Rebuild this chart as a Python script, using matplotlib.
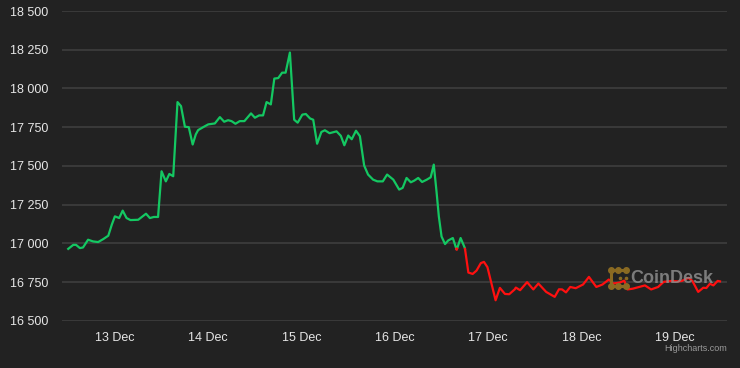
import matplotlib
matplotlib.use("Agg")
import matplotlib.pyplot as plt
import numpy as np

# hours since 13 Dec 00:00 and BTC price (USD)
hours = [-12.0, -10.7, -10.0, -9.0, -8.2, -6.9, -5.6, -4.3, -3.0, -1.7,
         -0.8, 0.0, 1.1, 2.0, 3.0, 4.0, 6.0, 8.0, 9.0, 10.0,
         11.1, 12.0, 13.1, 14.0, 15.0, 16.1, 17.0, 18.0, 19.0, 20.0,
         20.8, 21.4, 22.7, 24.0, 25.7, 27.0, 28.1, 29.1, 30.0, 31.0,
         32.1, 33.3, 35.0, 36.0, 37.1, 38.1, 39.0, 40.1, 41.0, 42.0,
         43.0, 43.9, 45.0, 46.1, 47.0, 48.2, 49.1, 50.2, 51.0, 52.0,
         53.1, 54.0, 55.2, 57.0, 58.1, 59.0, 60.0, 60.9, 62.0, 63.0,
         64.1, 65.1, 66.4, 67.5, 68.9, 70.0, 71.6, 73.1, 74.0, 75.0,
         76.1, 77.0, 78.0, 79.0, 80.2, 81.2, 82.0, 82.7, 83.3, 84.0,
         84.9, 85.7, 86.9, 87.9, 88.9, 90.0, 90.9, 92.0, 93.0, 94.1,
         94.9, 95.8, 96.6, 97.9, 99.0, 100.3, 101.4, 102.8, 103.1, 104.2,
         106.0, 107.6, 108.9, 110.9, 113.1, 114.2, 115.0, 116.0, 117.1, 118.5,
         120.4, 121.9, 123.8, 125.4, 127.0, 128.2, 129.9, 131.0, 131.8, 133.2,
         136.3, 137.9, 139.7, 141.1, 143.2, 144.8, 145.8, 147.5, 148.5, 150.0,
         151.3, 152.1, 153.0, 153.9, 155.0, 155.6]
prices = [16964, 16990, 16990, 16969, 16973, 17023, 17012, 17008, 17027, 17049,
          17120, 17174, 17163, 17211, 17163, 17150, 17152, 17191, 17163, 17170,
          17170, 17465, 17400, 17448, 17433, 17912, 17886, 17753, 17750, 17638,
          17703, 17731, 17750, 17768, 17774, 17815, 17785, 17795, 17789, 17772,
          17789, 17789, 17839, 17811, 17826, 17826, 17912, 17897, 18064, 18067,
          18102, 18102, 18232, 17798, 17779, 17831, 17835, 17806, 17798, 17643,
          17719, 17730, 17711, 17723, 17694, 17633, 17696, 17672, 17727, 17692,
          17502, 17444, 17411, 17400, 17400, 17444, 17411, 17347, 17358, 17422,
          17394, 17405, 17422, 17396, 17411, 17426, 17508, 17336, 17174, 17044,
          16995, 17018, 17034, 16958, 17034, 16969, 16811, 16802, 16824, 16872,
          16880, 16846, 16764, 16632, 16712, 16673, 16671, 16702, 16714, 16697,
          16749, 16702, 16740, 16686, 16654, 16703, 16702, 16683, 16718, 16710,
          16734, 16783, 16718, 16734, 16766, 16740, 16747, 16759, 16702, 16707,
          16728, 16702, 16718, 16751, 16757, 16754, 16757, 16777, 16757, 16686,
          16713, 16711, 16739, 16728, 16757, 16754]

day_ticks = [0, 24, 48, 72, 96, 120, 144]
day_labels = ["13 Dec", "14 Dec", "15 Dec", "16 Dec", "17 Dec", "18 Dec", "19 Dec"]
y_ticks = [16500, 16750, 17000, 17250, 17500, 17750, 18000, 18250, 18500]

bg = "#222222"
green = "#14c862"
red = "#ff1010"
gold = "#8a6a22"

plt.rcParams["font.family"] = ["Liberation Sans", "DejaVu Sans"]

fig = plt.figure(figsize=(7.4, 3.68), dpi=100, facecolor=bg)
ax = fig.add_axes([0.0838, 0.1285, 0.8986, 0.8415])
ax.set_facecolor(bg)

# split line at the opening price: green above, red below
x = np.array(hours, dtype=float)
y = np.array(prices, dtype=float)
thr = y[0]
xs, ys = [x[0]], [y[0]]
for i in range(1, len(x)):
    if (y[i - 1] - thr) * (y[i] - thr) < 0:
        t = (thr - y[i - 1]) / (y[i] - y[i - 1])
        xs.append(x[i - 1] + t * (x[i] - x[i - 1]))
        ys.append(thr)
    xs.append(x[i])
    ys.append(y[i])
xs = np.array(xs)
ys = np.array(ys)
up = np.where(ys >= thr, ys, np.nan)
down = np.where(ys <= thr, ys, np.nan)
ax.plot(xs, up, color=green, lw=1.6, solid_joinstyle="round", zorder=3)
ax.plot(xs, down, color=red, lw=1.6, solid_joinstyle="round", zorder=3)

ax.set_xlim(-13.6, 157.4)
ax.set_ylim(16500, 18500)
ax.set_yticks(y_ticks)
ax.set_yticklabels([f"{v:,}".replace(",", " ") for v in y_ticks])
ax.set_xticks(day_ticks)
ax.set_xticklabels(day_labels)
ax.tick_params(axis="both", length=0, colors="#e6e6e6", labelsize=9)
ax.tick_params(axis="y", pad=10)
ax.tick_params(axis="x", pad=8)
ax.grid(axis="y", color="#3c3c3c", lw=1.3, zorder=0)
ax.grid(axis="x", visible=False)
for s in ax.spines.values():
    s.set_visible(False)

# CoinDesk watermark
fig.text(0.9635, 0.243, "CoinDesk", color="#8c8c8c", fontsize=13,
         fontweight="bold", ha="right", va="center", alpha=0.85, zorder=5)
lx = [0.8253, 0.8356, 0.8459]
ly = [0.2663, 0.2236]
fig.lines.append(plt.Line2D([lx[0], lx[2]], [ly[0], ly[0]], transform=fig.transFigure,
                            color=gold, lw=2.2))
fig.lines.append(plt.Line2D([lx[0], lx[2]], [ly[1], ly[1]], transform=fig.transFigure,
                            color=gold, lw=2.2))
fig.lines.append(plt.Line2D([lx[0], lx[0]], ly, transform=fig.transFigure,
                            color=gold, lw=2.2))
for yy in ly:
    fig.lines.append(plt.Line2D(lx, [yy] * 3, transform=fig.transFigure, ls="none",
                                marker="o", ms=4, color=gold))
fig.lines.append(plt.Line2D([0.8375, 0.8465], [0.2450, 0.2450], transform=fig.transFigure,
                            ls="none", marker="o", ms=1.6, color=gold))

fig.text(0.982, 0.052, "Highcharts.com", color="#9a9a9a", fontsize=6.5,
         ha="right", va="center")

fig.savefig("out.png", dpi=100, facecolor=bg)
